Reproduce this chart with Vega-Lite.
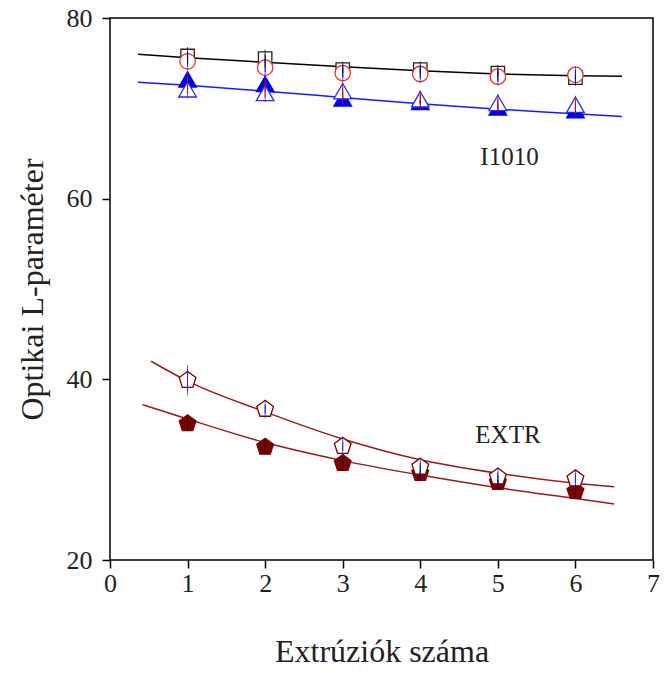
{
  "$schema": "https://vega.github.io/schema/vega-lite/v6.json",
  "width": 543,
  "height": 542,
  "autosize": {"type": "none"},
  "padding": {"left": 110, "top": 18, "right": 17, "bottom": 113},
  "background": "white",
  "config": {
    "view": {"stroke": "black", "strokeWidth": 1.5},
    "font": "Liberation Serif",
    "axis": {
      "grid": false,
      "domain": false,
      "tickColor": "black",
      "tickWidth": 1.5,
      "tickSize": 8,
      "labelFont": "Liberation Serif",
      "labelFontSize": 26,
      "labelColor": "#222",
      "titleFont": "Liberation Serif",
      "titleFontSize": 32,
      "titleFontWeight": "normal",
      "titleColor": "#222"
    }
  },
  "datasets": {
    "fits": [
      {"f": "black", "x": 0.36, "y": 76.0}, {"f": "black", "x": 1, "y": 75.6}, {"f": "black", "x": 2, "y": 75.1}, {"f": "black", "x": 3, "y": 74.6}, {"f": "black", "x": 4, "y": 74.15}, {"f": "black", "x": 5, "y": 73.8}, {"f": "black", "x": 6, "y": 73.6}, {"f": "black", "x": 6.6, "y": 73.55},
      {"f": "blue", "x": 0.36, "y": 72.9}, {"f": "blue", "x": 1, "y": 72.55}, {"f": "blue", "x": 2, "y": 71.9}, {"f": "blue", "x": 3, "y": 71.2}, {"f": "blue", "x": 4, "y": 70.5}, {"f": "blue", "x": 5, "y": 69.9}, {"f": "blue", "x": 6, "y": 69.4}, {"f": "blue", "x": 6.6, "y": 69.1},
      {"f": "extr1", "x": 0.53, "y": 42.0}, {"f": "extr1", "x": 1, "y": 39.8}, {"f": "extr1", "x": 2, "y": 36.4}, {"f": "extr1", "x": 3, "y": 33.4}, {"f": "extr1", "x": 4, "y": 31.1}, {"f": "extr1", "x": 5, "y": 29.6}, {"f": "extr1", "x": 6, "y": 28.5}, {"f": "extr1", "x": 6.5, "y": 28.1},
      {"f": "extr2", "x": 0.42, "y": 37.2}, {"f": "extr2", "x": 1, "y": 35.6}, {"f": "extr2", "x": 2, "y": 33.0}, {"f": "extr2", "x": 3, "y": 31.0}, {"f": "extr2", "x": 4, "y": 29.4}, {"f": "extr2", "x": 5, "y": 28.0}, {"f": "extr2", "x": 6, "y": 26.8}, {"f": "extr2", "x": 6.5, "y": 26.2}
    ],
    "pts": [
      {"s": "sq", "x": 1, "y": 75.8, "lo": 75.3, "hi": 76.3},
      {"s": "sq", "x": 2, "y": 75.5, "lo": 75.0, "hi": 76.0},
      {"s": "sq", "x": 3, "y": 74.3, "lo": 73.9, "hi": 74.7},
      {"s": "sq", "x": 4, "y": 74.3, "lo": 73.9, "hi": 74.7},
      {"s": "sq", "x": 5, "y": 73.9, "lo": 73.5, "hi": 74.3},
      {"s": "sq", "x": 6, "y": 73.4, "lo": 73.0, "hi": 73.8},
      {"s": "ci", "x": 1, "y": 75.2, "lo": 74.7, "hi": 75.7},
      {"s": "ci", "x": 2, "y": 74.5, "lo": 74.0, "hi": 75.0},
      {"s": "ci", "x": 3, "y": 73.9, "lo": 73.4, "hi": 74.4},
      {"s": "ci", "x": 4, "y": 73.8, "lo": 73.3, "hi": 74.3},
      {"s": "ci", "x": 5, "y": 73.5, "lo": 73.0, "hi": 74.0},
      {"s": "ci", "x": 6, "y": 73.7, "lo": 73.2, "hi": 74.2},
      {"s": "tf", "x": 1, "y": 73.2, "lo": 72.9, "hi": 73.5},
      {"s": "tf", "x": 2, "y": 72.7, "lo": 72.4, "hi": 73.0},
      {"s": "tf", "x": 3, "y": 71.1, "lo": 70.8, "hi": 71.4},
      {"s": "tf", "x": 4, "y": 70.7, "lo": 70.4, "hi": 71.0},
      {"s": "tf", "x": 5, "y": 70.1, "lo": 69.8, "hi": 70.4},
      {"s": "tf", "x": 6, "y": 69.8, "lo": 69.5, "hi": 70.1},
      {"s": "to", "x": 1, "y": 72.1, "lo": 71.6, "hi": 72.6},
      {"s": "to", "x": 2, "y": 71.7, "lo": 71.2, "hi": 72.2},
      {"s": "to", "x": 3, "y": 71.9, "lo": 71.4, "hi": 72.4},
      {"s": "to", "x": 4, "y": 71.0, "lo": 70.5, "hi": 71.5},
      {"s": "to", "x": 5, "y": 70.6, "lo": 70.1, "hi": 71.1},
      {"s": "to", "x": 6, "y": 70.4, "lo": 69.9, "hi": 70.9},
      {"s": "pf", "x": 1, "y": 35.1, "lo": 34.8, "hi": 35.4},
      {"s": "pf", "x": 2, "y": 32.5, "lo": 32.2, "hi": 32.8},
      {"s": "pf", "x": 3, "y": 30.7, "lo": 30.4, "hi": 31.0},
      {"s": "pf", "x": 4, "y": 29.6, "lo": 29.3, "hi": 29.9},
      {"s": "pf", "x": 5, "y": 28.6, "lo": 28.3, "hi": 28.9},
      {"s": "pf", "x": 6, "y": 27.6, "lo": 27.3, "hi": 27.9},
      {"s": "po", "x": 1, "y": 39.9, "lo": 38.7, "hi": 41.1},
      {"s": "po", "x": 2, "y": 36.7, "lo": 36.2, "hi": 37.2},
      {"s": "po", "x": 3, "y": 32.6, "lo": 32.1, "hi": 33.1},
      {"s": "po", "x": 4, "y": 30.3, "lo": 29.8, "hi": 30.8},
      {"s": "po", "x": 5, "y": 29.2, "lo": 28.7, "hi": 29.7},
      {"s": "po", "x": 6, "y": 29.0, "lo": 28.5, "hi": 29.5}
    ],
    "labels": [
      {"t": "I1010", "x": 5.15, "y": 64.6},
      {"t": "EXTR", "x": 5.13, "y": 33.8}
    ]
  },
  "layer": [
    {
      "data": {"name": "fits"},
      "mark": {"type": "line", "interpolate": "monotone", "strokeWidth": 1.5},
      "encoding": {
        "x": {"field": "x", "type": "quantitative", "scale": {"domain": [0, 7], "nice": false, "zero": false},
              "axis": {"values": [0, 1, 2, 3, 4, 5, 6, 7], "format": "d", "title": "Extrúziók száma", "labelPadding": 2, "titlePadding": 40, "labelFlush": false}},
        "y": {"field": "y", "type": "quantitative", "scale": {"domain": [20, 80], "nice": false, "zero": false},
              "axis": {"values": [20, 40, 60, 80], "format": "d", "title": "Optikai L-paraméter", "labelPadding": 10, "titlePadding": 17}},
        "color": {"field": "f", "type": "nominal", "legend": null,
                  "scale": {"domain": ["black", "blue", "extr1", "extr2"], "range": ["#000000", "#1a1aff", "#9a1a1a", "#9a1a1a"]}},
        "detail": {"field": "f"}
      }
    },
    {
      "data": {"name": "pts"},
      "mark": {"type": "point", "strokeWidth": 1.3, "opacity": 1},
      "encoding": {
        "x": {"field": "x", "type": "quantitative"},
        "y": {"field": "y", "type": "quantitative"},
        "shape": {"field": "s", "type": "nominal", "legend": null,
                  "scale": {"domain": ["sq", "ci", "tf", "to", "pf", "po"],
                            "range": ["square", "circle", "triangle-up", "triangle-up",
                                      "M0,-1L0.951,-0.309L0.588,0.809L-0.588,0.809L-0.951,-0.309Z",
                                      "M0,-1L0.951,-0.309L0.588,0.809L-0.588,0.809L-0.951,-0.309Z"]}},
        "stroke": {"field": "s", "type": "nominal", "legend": null,
                   "scale": {"domain": ["sq", "ci", "tf", "to", "pf", "po"], "range": ["#222222", "#ee3030", "#0000ee", "#2a2aee", "#7a0000", "#7a0000"]}},
        "fill": {"field": "s", "type": "nominal", "legend": null,
                 "scale": {"domain": ["sq", "ci", "tf", "to", "pf", "po"], "range": ["#ffffff", "#ffffff", "#0000ee", "#ffffff", "#7a0000", "#ffffff"]}},
        "size": {"field": "s", "type": "nominal", "legend": null,
                 "scale": {"type": "ordinal", "domain": ["sq", "ci", "tf", "to", "pf", "po"], "range": [180, 240, 310, 310, 310, 310]}}
      }
    },
    {
      "data": {"name": "pts"},
      "mark": {"type": "rule", "strokeWidth": 1},
      "encoding": {
        "x": {"field": "x", "type": "quantitative"},
        "y": {"field": "lo", "type": "quantitative"},
        "y2": {"field": "hi"},
        "color": {"field": "s", "type": "nominal", "legend": null,
                  "scale": {"domain": ["sq", "ci", "tf", "to", "pf", "po"], "range": ["#000000", "#ee2a2a", "#9a9aff", "#2a2aee", "#c08080", "#7a0000"]}}
      }
    },
    {
      "data": {"name": "pts"},
      "mark": {"type": "tick", "thickness": 1, "size": 9},
      "encoding": {
        "x": {"field": "x", "type": "quantitative"},
        "y": {"field": "hi", "type": "quantitative"},
        "color": {"field": "s", "type": "nominal", "legend": null}
      }
    },
    {
      "data": {"name": "pts"},
      "mark": {"type": "tick", "thickness": 1, "size": 9},
      "encoding": {
        "x": {"field": "x", "type": "quantitative"},
        "y": {"field": "lo", "type": "quantitative"},
        "color": {"field": "s", "type": "nominal", "legend": null}
      }
    },
    {
      "data": {"name": "labels"},
      "mark": {"type": "text", "font": "Liberation Serif", "fontSize": 25, "color": "#222"},
      "encoding": {
        "x": {"field": "x", "type": "quantitative"},
        "y": {"field": "y", "type": "quantitative"},
        "text": {"field": "t"}
      }
    }
  ]
}
